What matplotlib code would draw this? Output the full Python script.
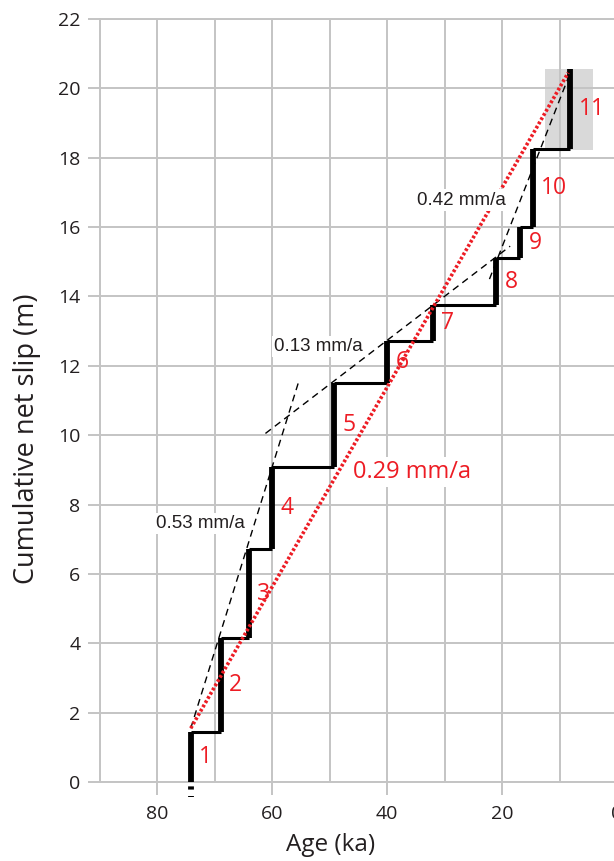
import matplotlib
matplotlib.use("Agg")
import matplotlib.pyplot as plt
from matplotlib.ticker import MultipleLocator
from matplotlib.patches import Rectangle

# event ages (ka) and cumulative slip (m) before / after each event
event_age = [74.2, 68.9, 64.1, 60.0, 49.2, 40.0, 32.0, 21.0, 16.8, 14.7, 8.1]
cum_slip = [0.0, 1.45, 4.14, 6.72, 9.07, 11.51, 12.73, 13.75, 15.1, 16.0, 18.24, 20.56]
event_names = ["1", "2", "3", "4", "5", "6", "7", "8", "9", "10", "11"]

# rate fits: (age0, slip0, age1, slip1)
fit_053 = ([74.2, 55.4], [1.55, 11.55])
fit_013 = ([61.2, 18.6], [10.05, 15.45])
fit_042 = ([22.2, 8.5], [14.5, 20.3])
fit_029 = ([74.2, 8.5], [1.55, 20.45])

# uncertainty box for event 11
box_age = [12.45, 4.1]
box_slip = [18.22, 20.56]

RED = "#ed1c24"
GRID = "#c4c4c4"
INK = "#231f20"

plt.rcParams["font.family"] = ["Open Sans", "DejaVu Sans"]

fig = plt.figure(figsize=(6.14, 8.61), dpi=100)
ax = fig.add_axes([100 / 614, 1 - 782 / 861, 517 / 614, 763 / 861])

ax.set_xlim(90, 0)
ax.set_ylim(0, 22)
ax.xaxis.set_major_locator(MultipleLocator(20))
ax.xaxis.set_minor_locator(MultipleLocator(10))
ax.yaxis.set_major_locator(MultipleLocator(2))
ax.set_axisbelow(True)
ax.grid(True, which="both", color=GRID, lw=1.4)
ax.tick_params(which="major", direction="out", color=GRID, width=1.4,
               labelsize=14, labelcolor=INK)
ax.tick_params(axis="y", length=8.6, pad=5.5)
ax.tick_params(axis="x", length=9.4, pad=7)
ax.tick_params(which="minor", length=0)
for s in ax.spines.values():
    s.set_color(GRID)
    s.set_linewidth(1.4)
ax.spines["right"].set_visible(False)

ax.add_patch(Rectangle((box_age[1], box_slip[0]), box_age[0] - box_age[1],
                       box_slip[1] - box_slip[0], fc="#d0d0d0", ec="none",
                       alpha=0.8, zorder=0.4))

# step curve: risers thick, treads thinner
ax.hlines(cum_slip[1:-1], event_age[:-1], event_age[1:], color="k", lw=2.2, zorder=3)
ax.vlines(event_age, cum_slip[:-1], cum_slip[1:], color="k", lw=4.2, zorder=3)
ax.plot([event_age[0], event_age[0]], [0, -0.43], color="k", lw=4.2,
        ls=(0.9, (0.55, 1.1)), clip_on=False, zorder=3)

for name, a, lo, hi in zip(event_names, event_age, cum_slip[:-1], cum_slip[1:]):
    ax.text(a - 1.4, (lo + hi) / 2, name, color=RED, fontsize=16.5,
            ha="left", va="center", zorder=4)

for xs, ys in (fit_053, fit_013, fit_042):
    ax.plot(xs, ys, color="k", lw=1.0, ls=(0, (5, 3.5)), zorder=4)
ax.plot(fit_029[0], fit_029[1], color=RED, lw=2.6, ls=(0, (0.75, 0.6)), zorder=4)

box = dict(boxstyle="square,pad=0.12", fc="white", ec="none")
kw = dict(family=["Liberation Sans", "DejaVu Sans"], fontsize=13.5, color=INK,
          ha="left", va="center", bbox=box, zorder=5)
ax.text(80.3, 7.45, "0.53 mm/a", **kw)
ax.text(59.7, 12.55, "0.13 mm/a", **kw)
ax.text(34.8, 16.78, "0.42 mm/a", **kw)
ax.text(46.0, 8.93, "0.29 mm/a", color=RED, fontsize=17, ha="left", va="center",
        bbox=box, zorder=5)

ax.set_xlabel("Age (ka)", fontsize=17.5, color=INK, va="center")
ax.xaxis.set_label_coords(0.445, -0.0826)
ax.set_ylabel("Cumulative net slip (m)", fontsize=19.5, color=INK, va="center")
ax.yaxis.set_label_coords(-0.141, 0.45)

fig.savefig("out.png", dpi=100)
